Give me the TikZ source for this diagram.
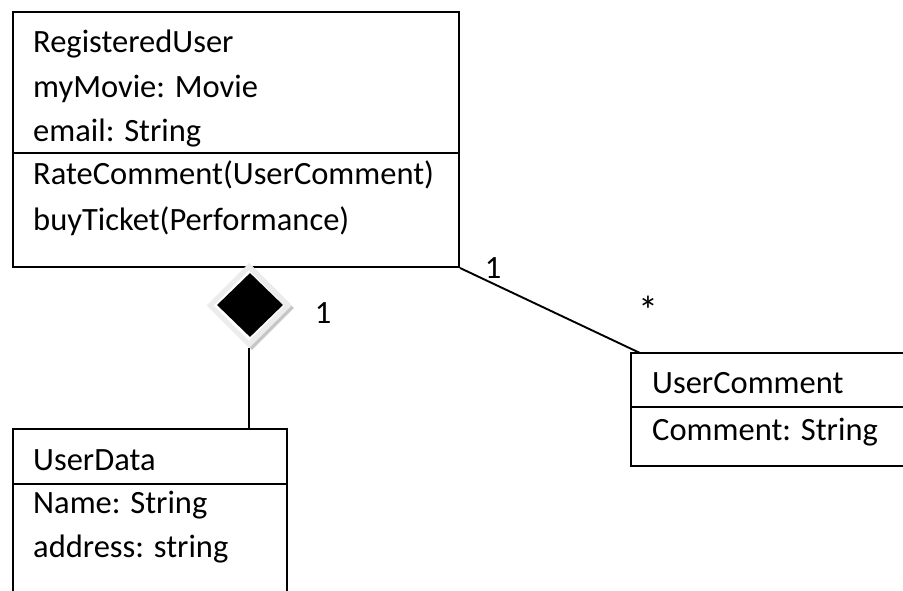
\documentclass[tikz,border=0pt]{standalone}
\usepackage{fontspec}
\setmainfont{Carlito}
\usepackage{tikz}
\usetikzlibrary{positioning, shapes.geometric}
\tikzset{
  classbox/.style  = {draw, line width=1.9pt, inner sep=0pt},
  member/.style    = {anchor=base west, inner sep=0pt, font=\fontsize{32.5}{38}\selectfont},
  mult/.style      = {inner sep=0pt, font=\fontsize{32.5}{38}\selectfont},
  assoc/.style     = {line width=1.9pt},
  compdia/.style   = {diamond, aspect=1, inner sep=0pt}
}

\begin{document}
\begin{tikzpicture}[x=1pt, y=-1pt]

    \useasboundingbox (0,0) rectangle (903,591);
    \clip (0,0) rectangle (903,591);

    % -- RegisteredUser ----------------------------------------------------
    \node[classbox, minimum width=446pt, minimum height=255pt] (ru) at (236,139.5) {};
    \node[member] (ruName)  at (33,53)  {RegisteredUser};
    \node[member] (ruMovie) at (33,98)  {myMovie: Movie};
    \node[member] (ruMail)  at (33,142) {email: String};
    \node[member] (ruRate)  at (33,185) {RateComment(UserComment)};
    \node[member] (ruBuy)   at (33,230) {buyTicket(Performance)};
    \coordinate (ruSep) at (0,153);
    \draw[line width=1.9pt] (ru.west |- ruSep) -- (ru.east |- ruSep);

    % -- UserData (runs off the bottom) ------------------------------------
    \node[classbox, minimum width=274pt, minimum height=200pt] (ud) at (150,529) {};
    \node[member] (udName) at (33,470) {UserData};
    \node[member] (udNm)   at (33,513) {Name: String};
    \node[member] (udAddr) at (33,557) {address: string};
    \coordinate (udSep) at (0,484);
    \draw[line width=1.9pt] (ud.west |- udSep) -- (ud.east |- udSep);

    % -- UserComment (runs off the right) ----------------------------------
    \node[classbox, minimum width=300pt, minimum height=113pt] (uc) at (781,409.5) {};
    \node[member] (ucName) at (652,393) {UserComment};
    \node[member] (ucText) at (652,440) {Comment: String};
    \coordinate (ucSep) at (0,407);
    \draw[line width=1.9pt] (uc.west |- ucSep) -- (uc.east |- ucSep);

    % -- composition: RegisteredUser <>-- UserData -------------------------
    \node[compdia, fill=gray!45, minimum width=84pt, minimum height=84pt] (diaShade) at (252,308) {};
    \node[compdia, fill=white, draw=gray!15, line width=5pt,
          minimum width=80pt, minimum height=80pt] (dia) at (249,305.5) {};
    \node[compdia, fill=black, minimum width=66pt, minimum height=64pt] (diaFill) at (250,305) {};
    \draw[assoc] (dia.south) -- (dia.south |- ud.north);
    \node[mult] (mComp) at (323,313) {1};

    % -- association: RegisteredUser 1 -- * UserComment --------------------
    \coordinate (ucEnd) at (640,353);
    \draw[assoc] (ru.south east) -- (ucEnd);
    \node[mult] (mRu) at (493,268) {1};
    \node[mult, font=\fontsize{40}{44}\selectfont] (mUc) at (648,310) {*};

\end{tikzpicture}
\end{document}
